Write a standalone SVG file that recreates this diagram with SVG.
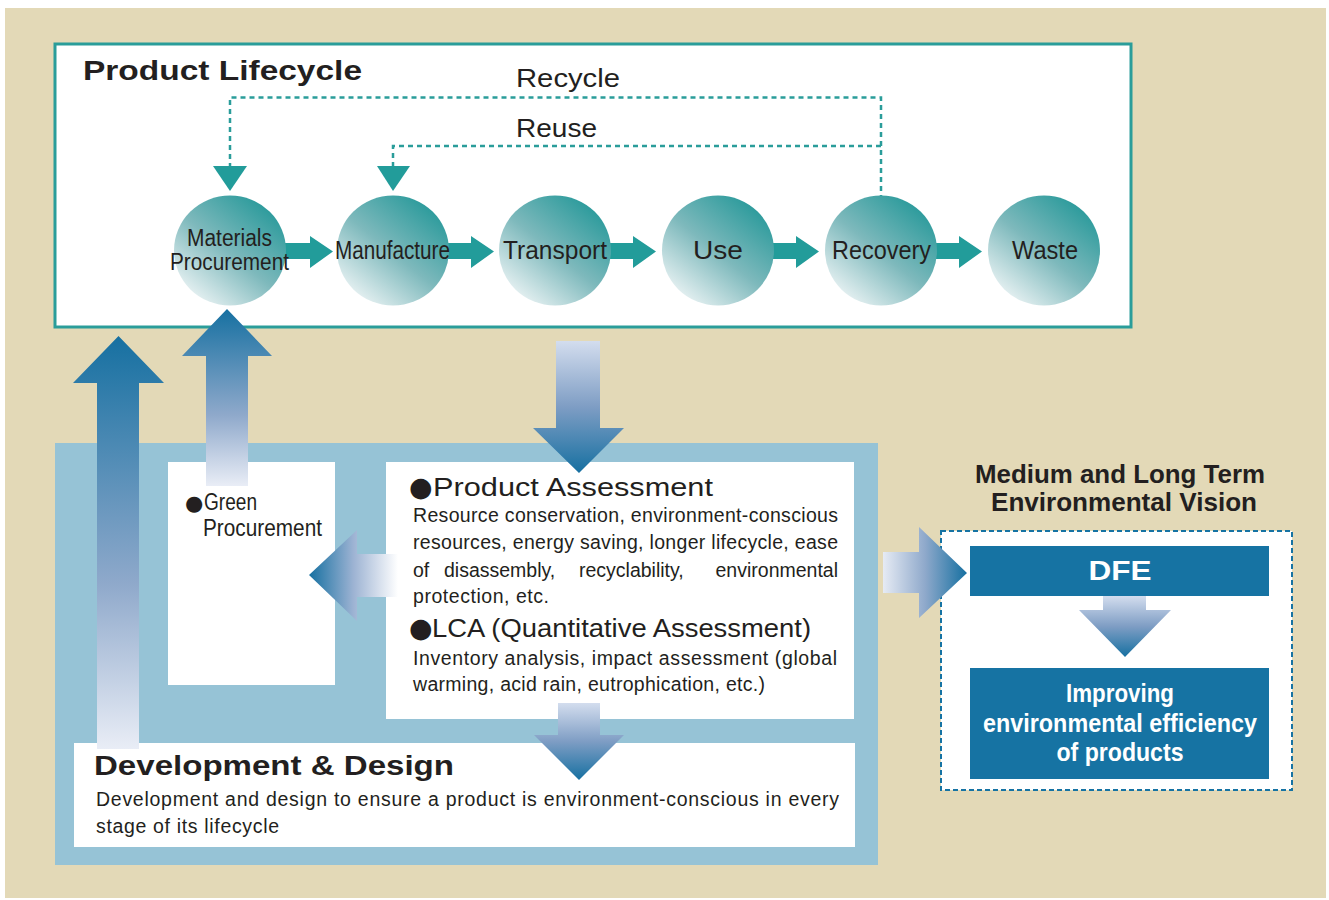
<svg xmlns="http://www.w3.org/2000/svg" width="1329" height="900" viewBox="0 0 1329 900">
<defs>
<linearGradient id="circGrad" x1="0.85" y1="0.1" x2="0.15" y2="0.95">
<stop offset="0" stop-color="#2A9A9B"/>
<stop offset="0.5" stop-color="#7EB9BC"/>
<stop offset="1" stop-color="#EEF5F6"/>
</linearGradient>
<linearGradient id="upGrad" x1="0" y1="0" x2="0" y2="1">
<stop offset="0" stop-color="#1670A1"/>
<stop offset="0.6" stop-color="#8FA9CB"/>
<stop offset="1" stop-color="#E9EDF6"/>
</linearGradient>
<linearGradient id="downGrad" x1="0" y1="0" x2="0" y2="1">
<stop offset="0" stop-color="#D3DDEE"/>
<stop offset="0.5" stop-color="#7E9DC4"/>
<stop offset="1" stop-color="#1670A1"/>
</linearGradient>
<linearGradient id="leftGrad" x1="0" y1="0" x2="1" y2="0">
<stop offset="0" stop-color="#1670A1"/>
<stop offset="0.5" stop-color="#9DB3D3"/>
<stop offset="1" stop-color="#FFFFFF"/>
</linearGradient>
<linearGradient id="rightGrad" x1="0" y1="0" x2="1" y2="0">
<stop offset="0" stop-color="#E6EBF4"/>
<stop offset="0.5" stop-color="#8FA9CB"/>
<stop offset="1" stop-color="#1670A1"/>
</linearGradient>
<style>
.t{font-family:"Liberation Sans",Arial,sans-serif;fill:#231F20}
.b{font-weight:bold}
.c{font-family:"Liberation Sans",Arial,sans-serif;fill:#231F20;font-size:26px}
.c2{font-family:"Liberation Sans",Arial,sans-serif;fill:#231F20;font-size:23px}
.body{font-family:"Liberation Sans",Arial,sans-serif;fill:#231F20;font-size:19.5px}
.bul{font-family:"DejaVu Sans",sans-serif}
.w{fill:#FFFFFF}
.dash{fill:none;stroke:#2A9D9A;stroke-width:2.5;stroke-dasharray:5 4}
.teal{fill:#229C9A}
.circ{fill:url(#circGrad)}
</style>
</defs>
<rect x="5" y="8" width="1321" height="890" fill="#E3D9B7"/>

<g id="lifecycle">
<rect x="55" y="44" width="1076" height="283" fill="#FFFFFF" stroke="#2A9D9A" stroke-width="3"/>
<text class="t b" x="83" y="80" font-size="28" textLength="279" lengthAdjust="spacingAndGlyphs">Product Lifecycle</text>
<text class="t" x="516" y="87" font-size="25" textLength="104" lengthAdjust="spacingAndGlyphs">Recycle</text>
<text class="t" x="516" y="137" font-size="25" textLength="81" lengthAdjust="spacingAndGlyphs">Reuse</text>
</g>

<g id="design-panel">
<rect x="55" y="443" width="823" height="422" fill="#96C3D6"/>
</g>

<g id="green-procurement">
<rect x="168" y="462" width="167" height="223" fill="#FFFFFF"/>
<text class="c2" x="185" y="510"><tspan class="bul" font-size="21">●</tspan><tspan x="204" textLength="53" lengthAdjust="spacingAndGlyphs">Green</tspan></text>
<text class="c2" x="203" y="536" textLength="119" lengthAdjust="spacingAndGlyphs">Procurement</text>
</g>

<g id="product-assessment">
<rect x="386" y="462" width="468" height="257" fill="#FFFFFF"/>
<text class="t" x="409" y="496" font-size="25"><tspan class="bul" font-size="27">●</tspan><tspan x="433" textLength="280" lengthAdjust="spacingAndGlyphs">Product Assessment</tspan></text>
<text class="body" x="413" y="522" textLength="425" lengthAdjust="spacing">Resource conservation, environment-conscious</text>
<text class="body" x="413" y="549" textLength="425" lengthAdjust="spacing">resources, energy saving, longer lifecycle, ease</text>
<text class="body" y="577"><tspan x="413">of</tspan><tspan x="444">disassembly,</tspan><tspan x="579">recyclability,</tspan><tspan x="838" text-anchor="end">environmental</tspan></text>
<text class="body" x="413" y="603" textLength="136" lengthAdjust="spacing">protection, etc.</text>
<text class="t" x="409" y="637" font-size="25"><tspan class="bul" font-size="27">●</tspan><tspan x="432" textLength="379" lengthAdjust="spacingAndGlyphs">LCA (Quantitative Assessment)</tspan></text>
<text class="body" x="413" y="665" textLength="424" lengthAdjust="spacing">Inventory analysis, impact assessment (global</text>
<text class="body" x="413" y="691" textLength="352" lengthAdjust="spacing">warming, acid rain, eutrophication, etc.)</text>
</g>

<g id="development-design">
<rect x="74" y="743" width="781" height="104" fill="#FFFFFF"/>
<text class="t b" x="94" y="775" font-size="27" textLength="360" lengthAdjust="spacingAndGlyphs">Development &amp; Design</text>
<text class="body" x="96" y="806" textLength="743" lengthAdjust="spacing">Development and design to ensure a product is environment-conscious in every</text>
<text class="body" x="96" y="833" textLength="183" lengthAdjust="spacing">stage of its lifecycle</text>
</g>

<g id="vision">
<text class="t b" x="975" y="483" font-size="25" textLength="290" lengthAdjust="spacingAndGlyphs">Medium and Long Term</text>
<text class="t b" x="991" y="511" font-size="25" textLength="266" lengthAdjust="spacingAndGlyphs">Environmental Vision</text>
<rect x="941" y="531" width="351" height="259" fill="#FFFFFF" stroke="#1673A3" stroke-width="2" stroke-dasharray="5 3"/>
</g>

<g id="dfe">
<rect x="970" y="546" width="299" height="50" fill="#1673A3"/>
<text class="t b w" x="1120" y="580" font-size="28" text-anchor="middle" textLength="63" lengthAdjust="spacingAndGlyphs">DFE</text>
</g>

<g id="improving">
<rect x="970" y="668" width="299" height="111" fill="#1673A3"/>
<text class="t b w" x="1120" y="702" font-size="25" text-anchor="middle" textLength="108" lengthAdjust="spacingAndGlyphs">Improving</text>
<text class="t b w" x="1120" y="732" font-size="25" text-anchor="middle" textLength="274" lengthAdjust="spacingAndGlyphs">environmental efficiency</text>
<text class="t b w" x="1120" y="761" font-size="25" text-anchor="middle" textLength="127" lengthAdjust="spacingAndGlyphs">of products</text>
</g>

<g id="connectors">
<path class="dash" d="M881,200 V97.5 H230 V166"/>
<path class="dash" d="M881,146 H393 V166"/>
<path class="teal" d="M213,166 L247,166 L230,191 Z"/>
<path class="teal" d="M377,166 L410,166 L393,191 Z"/>
<path class="teal" d="M282,243 H310 V236 L333,251.5 L310,268 V259 H282 Z"/>
<path class="teal" d="M445,243 H471 V236 L494,251.5 L471,268 V259 H445 Z"/>
<path class="teal" d="M607,243 H633 V236 L656,251.5 L633,268 V259 H607 Z"/>
<path class="teal" d="M770,243 H796 V236 L819,251.5 L796,268 V259 H770 Z"/>
<path class="teal" d="M933,243 H959 V236 L982,251.5 L959,268 V259 H933 Z"/>
<path fill="url(#upGrad)" d="M97,749 L97,383 L73,383 L118.5,336 L164,383 L139,383 L139,749 Z"/>
<path fill="url(#upGrad)" d="M206,486 L206,356 L182,356 L227,309 L272,356 L248,356 L248,486 Z"/>
<path fill="url(#downGrad)" d="M556,341 L600,341 L600,428 L624,428 L579,473 L533,428 L556,428 Z"/>
<path fill="url(#leftGrad)" d="M398,554 L357,554 L357,530 L309,575 L357,621 L357,597 L398,597 Z"/>
<path fill="url(#downGrad)" d="M558,703 L600,703 L600,735 L624,735 L579,780 L534,735 L558,735 Z"/>
<path fill="url(#rightGrad)" d="M883,552 L919,552 L919,527 L967,573 L919,618 L919,593 L883,593 Z"/>
<path fill="url(#downGrad)" d="M1103,596 L1146,596 L1146,610 L1171,610 L1125,657 L1079,610 L1103,610 Z"/>
</g>

<g id="materials">
<ellipse class="circ" cx="230" cy="250.5" rx="56" ry="55"/>
<text class="c2" x="187" y="246" textLength="85" lengthAdjust="spacingAndGlyphs">Materials</text>
<text class="c2" x="170" y="270" textLength="119" lengthAdjust="spacingAndGlyphs">Procurement</text>
</g>
<g id="manufacture">
<ellipse class="circ" cx="393" cy="250.5" rx="56" ry="55"/>
<text class="c" x="335" y="259" textLength="115" lengthAdjust="spacingAndGlyphs">Manufacture</text>
</g>
<g id="transport">
<ellipse class="circ" cx="555" cy="250.5" rx="56" ry="55"/>
<text class="c" x="503" y="259" textLength="104" lengthAdjust="spacingAndGlyphs">Transport</text>
</g>
<g id="use">
<ellipse class="circ" cx="718" cy="250.5" rx="56" ry="55"/>
<text class="c" x="693" y="259" textLength="50" lengthAdjust="spacingAndGlyphs">Use</text>
</g>
<g id="recovery">
<ellipse class="circ" cx="881" cy="250.5" rx="56" ry="55"/>
<text class="c" x="832" y="259" textLength="99" lengthAdjust="spacingAndGlyphs">Recovery</text>
</g>
<g id="waste">
<ellipse class="circ" cx="1044" cy="250.5" rx="56" ry="55"/>
<text class="c" x="1012" y="259" textLength="66" lengthAdjust="spacingAndGlyphs">Waste</text>
</g>
</svg>
